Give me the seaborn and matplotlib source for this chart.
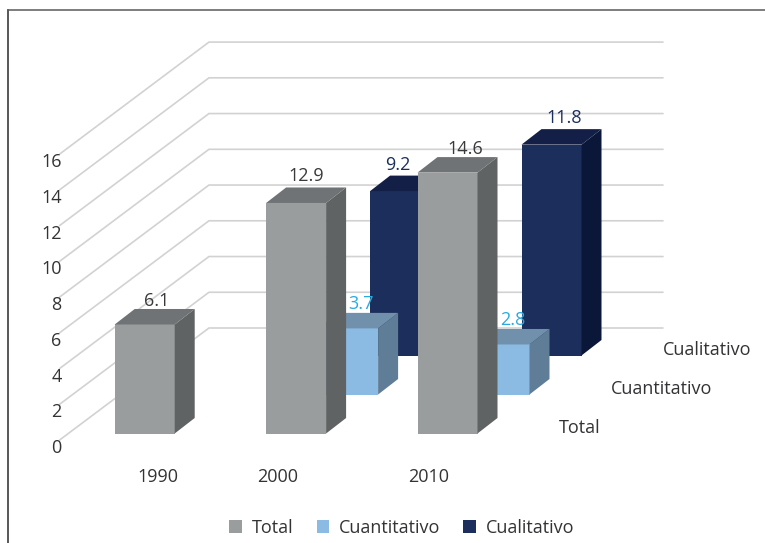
"""3D-look grouped bars: front faces are seaborn bars, shifted back per series."""
import numpy as np
import pandas as pd
import matplotlib
matplotlib.use('Agg')
import matplotlib.pyplot as plt
from matplotlib.patches import Patch, Polygon
import seaborn as sns

sns.set_style('white')
plt.rcParams['font.family'] = ['Open Sans', 'DejaVu Sans']

anios = ['1990', '2000', '2010']
series = ['Total', 'Cuantitativo', 'Cualitativo']
total = [6.1, 12.9, 14.6]
cuantitativo = [np.nan, 3.7, 2.8]
cualitativo = [np.nan, 9.2, 11.8]
y_ticks = [0, 2, 4, 6, 8, 10, 12, 14, 16]

front_colors = {'Total': '#9a9d9d', 'Cuantitativo': '#8bbae2', 'Cualitativo': '#1c2e5b'}
top_colors = {'Total': '#707375', 'Cuantitativo': '#7190ac', 'Cualitativo': '#131f47'}
side_colors = {'Total': '#606363', 'Cuantitativo': '#5f7d96', 'Cualitativo': '#0a1739'}
label_colors = {'Total': '#3a3a3c', 'Cuantitativo': '#29abe2', 'Cualitativo': '#1c2e5b'}
text_color = '#333335'
FS = 13

df = pd.DataFrame({'anio': anios * 3,
                   'serie': np.repeat(series, 3),
                   'valor': total + cuantitativo + cualitativo}).dropna()

# scale of the picture: pixels per category, per value unit, and anchor of the first bar
PX_CAT, PX_VAL = 151.4, 17.87
X0, Y0 = 144.7, 433.5
W, H = 765, 543
LEFT, TOP = 8, 10
depth_dx, depth_dy = 52 / PX_CAT, 39 / PX_VAL      # one series further back
side_dx, side_dy = 20 / PX_CAT, 15.5 / PX_VAL      # depth of one bar
wall_depth, front_depth = 2.705, -0.167            # floor extent in series steps
grid_right = (663 - X0) / PX_CAT
floor_x = (68.3 - X0) / PX_CAT


fig = plt.figure(figsize=(W / 100, H / 100), dpi=100)
ax = fig.add_axes([LEFT / W, 0, (W - LEFT) / W, (H - TOP) / H])

# gridlines run along the floor side wall, then along the back wall
for v in y_ticks:
    xs = [floor_x + front_depth * depth_dx, floor_x + wall_depth * depth_dx, grid_right]
    ys = [v + front_depth * depth_dy, v + wall_depth * depth_dy, v + wall_depth * depth_dy]
    ax.plot(xs, ys, color='#d2d2d2', lw=1.2, zorder=1, solid_joinstyle='miter')
    ax.text(floor_x + front_depth * depth_dx + 2 / PX_CAT, v + front_depth * depth_dy - 8 / PX_VAL,
            str(v), ha='right', va='center', fontsize=FS, color=text_color)

# small per-label nudges (pixels) for the value labels
label_nudge = {6.1: (12, 23), 12.9: (10, 27), 3.7: (13, 24), 9.2: (-2, 26),
               14.6: (18, 24), 2.8: (13, 24), 11.8: (13, 27)}

# draw back to front so nearer bars cover the farther ones
for depth, serie in reversed(list(enumerate(series))):
    z = 5 - depth
    sub = df[df['serie'] == serie]
    sns.barplot(data=sub, x='anio', y='valor', order=anios, color=front_colors[serie],
                saturation=1, width=60 / PX_CAT, ax=ax, zorder=z, linewidth=0)
    for bar, val in zip(ax.containers[-1], sub['valor']):
        bar.set_x(bar.get_x() + depth * depth_dx)
        bar.set_y(depth * depth_dy)
        x0, x1 = bar.get_x(), bar.get_x() + bar.get_width()
        y0, y1 = bar.get_y(), bar.get_y() + bar.get_height()
        ax.add_patch(Polygon([(x1, y0), (x1 + side_dx, y0 + side_dy), (x1 + side_dx, y1 + side_dy), (x1, y1)],
                             closed=True, fc=side_colors[serie], ec='none', zorder=z))
        ax.add_patch(Polygon([(x0, y1), (x0 + side_dx, y1 + side_dy), (x1 + side_dx, y1 + side_dy), (x1, y1)],
                             closed=True, fc=top_colors[serie], ec='none', zorder=z))
        ax.annotate(f'{val:.1f}', xy=((x0 + x1) / 2, y1), xytext=label_nudge[val],
                    textcoords='offset pixels', ha='center', va='center', fontsize=FS,
                    color=label_colors[serie], zorder=10)
    # series name at the end of the floor
    ax.text((559 - X0) / PX_CAT + depth * depth_dx, 5.5 / PX_VAL + depth * depth_dy,
            serie, ha='left', va='center', fontsize=FS, color=text_color)

# the year labels do not sit evenly under the bars in the original
year_shift = [13, -18, -18.5]
for i, a in enumerate(anios):
    ax.text(i + year_shift[i] / PX_CAT, -43 / PX_VAL, a, ha='center', va='center', fontsize=FS, color=text_color)

ax.set_xlim((LEFT - X0) / PX_CAT, (W - X0) / PX_CAT)
ax.set_ylim((Y0 - H) / PX_VAL, (Y0 - TOP) / PX_VAL)
ax.set_xticks([])
ax.set_yticks([])
ax.set_xlabel('')
ax.set_ylabel('')
ax.spines['right'].set_visible(False)
ax.spines['bottom'].set_visible(False)
ax.spines['top'].set_color('#5a5a5a')
ax.spines['left'].set_color('#2a2a2a')
for s in ['top', 'left']:
    ax.spines[s].set_linewidth(1.1)

handles = [Patch(fc=front_colors[s], ec='none', label=s) for s in series]
ax.legend(handles=handles, ncol=3, frameon=False, loc='center', fontsize=FS,
          bbox_to_anchor=(402 / W, 1 - 528 / H), bbox_transform=fig.transFigure,
          handlelength=0.7, handleheight=0.7, handletextpad=0.55, columnspacing=1.27,
          labelcolor=text_color)

fig.savefig('out.png', dpi=100)
plt.close(fig)
